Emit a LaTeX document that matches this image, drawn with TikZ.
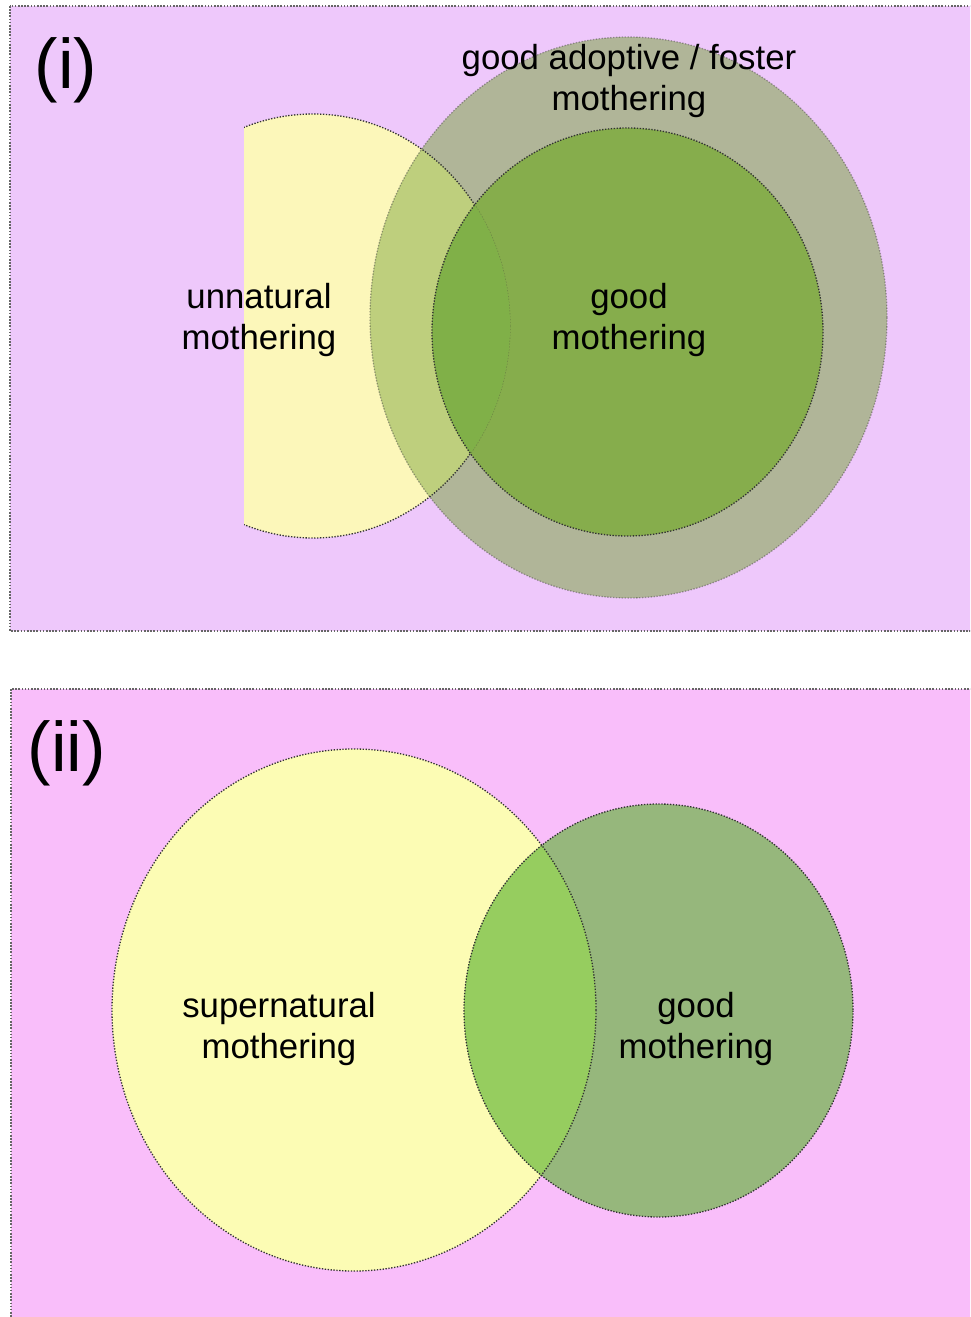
\documentclass[tikz,border=0pt]{standalone}
\usepackage{fontspec}
\setmainfont{Liberation Sans}
\definecolor{colLilas}{RGB}{238,200,251}
\definecolor{colRose}{RGB}{249,190,250}
\definecolor{colJaune}{RGB}{252,247,186}
\definecolor{colJauneB}{RGB}{252,252,180}
\definecolor{colOlive}{RGB}{176,181,152}
\definecolor{colMix}{RGB}{190,207,125}
\definecolor{colVert}{RGB}{134,173,76}
\definecolor{colVertB}{RGB}{128,176,72}
\definecolor{colSauge}{RGB}{150,183,124}
\definecolor{colPomme}{RGB}{150,205,95}
\definecolor{colTrait}{RGB}{50,50,50}

\begin{document}
\begin{tikzpicture}[x=0.02cm, y=-0.02cm,
    font=\fontsize{19.8}{22.8}\selectfont,
    lbl/.style={align=center, inner sep=0pt},
    tag/.style={font=\fontsize{40}{42}\selectfont, inner sep=0pt},
    rim/.style={draw=colTrait, line width=0.75pt, dash pattern=on 0.75pt off 0.9pt},
    cadre/.style={draw=black!60, line width=0.9pt, dash pattern=on 0.9pt off 0.9pt}]
    \useasboundingbox (0,0) rectangle (970,1317);
    \clip (0,0) rectangle (970,1317);

    % (i)
    \fill[colLilas] (10,6) rectangle (990,631);
    \draw[cadre] (10,6) rectangle (990,631);
    \begin{scope}
      \clip (244,0) rectangle (970,631);
      \fill[colJaune] (313,326) ellipse [x radius=197, y radius=212];
    \end{scope}
    \fill[colOlive] (628.5,317.5) ellipse [x radius=258.5, y radius=280.5];
    \begin{scope}
      \clip (313,326) ellipse [x radius=197, y radius=212];
      \fill[colMix] (628.5,317.5) ellipse [x radius=258.5, y radius=280.5];
    \end{scope}
    \begin{scope}
      \clip (244,0) rectangle (970,631);
      \draw[rim] (313,326) ellipse [x radius=197, y radius=212];
    \end{scope}
    \fill[colVert] (627.5,332) ellipse [x radius=195.5, y radius=204];
    \begin{scope}
      \clip (627.5,332) ellipse [x radius=195.5, y radius=204];
      \draw[rim, draw opacity=0.3] (313,326) ellipse [x radius=197, y radius=212];
      \clip (313,326) ellipse [x radius=197, y radius=212];
      \fill[colVertB] (627.5,332) ellipse [x radius=195.5, y radius=204];
    \end{scope}
    \draw[rim, draw opacity=0.4] (628.5,317.5) ellipse [x radius=258.5, y radius=280.5];
    \draw[rim] (627.5,332) ellipse [x radius=195.5, y radius=204];

    \node[tag] (numI) at (66,70) {(i)};
    \node[lbl] (unnat) at (259,320) {unnatural\\mothering};
    \node[lbl] (adopt) at (629,81) {good adoptive / foster\\mothering};
    \node[lbl] (goodI) at (629,320) {good\\mothering};

    % (ii)
    \fill[colRose] (11,689) rectangle (990,1340);
    \draw[cadre] (11,689) rectangle (990,1340);
    \fill[colJauneB] (354,1010) ellipse [x radius=242, y radius=261];
    \fill[colSauge] (658.5,1010.5) ellipse [x radius=194.5, y radius=206.5];
    \begin{scope}
      \clip (354,1010) ellipse [x radius=242, y radius=261];
      \fill[colPomme] (658.5,1010.5) ellipse [x radius=194.5, y radius=206.5];
    \end{scope}
    \draw[rim] (354,1010) ellipse [x radius=242, y radius=261];
    \draw[rim] (658.5,1010.5) ellipse [x radius=194.5, y radius=206.5];

    \node[tag] (numII) at (67,753) {(ii)};
    \node[lbl] (super) at (279,1029) {supernatural\\mothering};
    \node[lbl] (goodII) at (696,1029) {good\\mothering};
\end{tikzpicture}
\end{document}
